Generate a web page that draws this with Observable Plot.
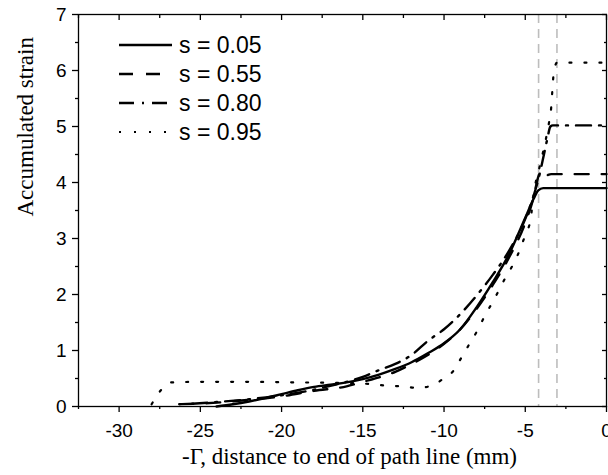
<!DOCTYPE html>
<html>
<head>
<meta charset="utf-8">
<script src="https://cdn.jsdelivr.net/npm/d3@7"></script>
<script src="https://cdn.jsdelivr.net/npm/@observablehq/plot@0.6"></script>
<style>
  html, body { margin: 0; padding: 0; background: white; }
  #wrap { position: relative; width: 608px; height: 475px; overflow: hidden; }
  #legend { position: absolute; left: 0; top: 0; pointer-events: none; }
</style>
</head>
<body>
<div id="wrap"></div>
<script>
// ---- data ----
const seriesLabels = ["s = 0.05", "s = 0.55", "s = 0.80", "s = 0.95"];

const x005 = [-24, -23, -22, -21, -20, -19, -18, -17, -16, -15, -14, -13, -12, -11, -10, -9, -8, -7, -6, -5, -4.5, -4.2, -3.9, 0];
const y005 = [0.0, 0.04, 0.09, 0.15, 0.22, 0.29, 0.35, 0.39, 0.43, 0.49, 0.57, 0.67, 0.79, 0.95, 1.13, 1.38, 1.77, 2.22, 2.72, 3.37, 3.70, 3.86, 3.90, 3.90];

const x055 = [-26.3, -24, -22, -20, -18, -16, -15, -14, -13, -12, -11, -10, -9, -8, -7, -6, -5, -4.5, -4.2, -4.05, -3.8, -3.4, 0];
const y055 = [0.04, 0.07, 0.12, 0.18, 0.28, 0.36, 0.44, 0.52, 0.62, 0.76, 0.92, 1.12, 1.38, 1.74, 2.17, 2.66, 3.28, 3.72, 4.10, 4.20, 4.12, 4.15, 4.15];

const x080 = [-25.5, -24, -22, -20, -18, -17, -16, -15, -14, -13, -12, -11, -10, -9, -8, -7, -6, -5, -4.5, -4.2, -3.85, -3.65, -3.45, -3.3, 0];
const y080 = [0.05, 0.08, 0.13, 0.20, 0.30, 0.37, 0.44, 0.53, 0.65, 0.76, 0.92, 1.17, 1.38, 1.65, 1.98, 2.35, 2.78, 3.35, 3.75, 4.05, 4.50, 4.77, 5.00, 5.02, 5.02];

const x095 = [-28, -27.4, -26.8, -25, -22, -19, -16, -14.5, -13.5, -12.5, -11.65, -10.8, -10.07, -9.44, -8.88, -8.41, -7.92, -7.49, -7.0, -6.63, -6.22, -5.74, -5.33, -4.98, -4.68, -4.47, -4.1, -3.75, -3.55, -3.4, -3.32, -3.25, -3.05, 0];
const y095 = [0.04, 0.30, 0.43, 0.44, 0.44, 0.43, 0.42, 0.40, 0.37, 0.36, 0.33, 0.37, 0.49, 0.63, 0.90, 1.13, 1.37, 1.62, 1.87, 2.07, 2.30, 2.54, 2.80, 3.08, 3.33, 3.82, 4.30, 4.75, 5.05, 5.35, 5.70, 5.95, 6.14, 6.14];

const refLines = [-4.18, -3.05];

const xMajor = [-30, -25, -20, -15, -10, -5, 0];
const xMinor = [-32.5, -27.5, -22.5, -17.5, -12.5, -7.5, -2.5];
const yMajor = [0, 1, 2, 3, 4, 5, 6, 7];
const yMinor = [0.5, 1.5, 2.5, 3.5, 4.5, 5.5, 6.5];

const xTitle = "-Γ, distance to end of path line (mm)";
const yTitle = "Accumulated strain";

// ---- build tables ----
const xs = [x005, x055, x080, x095];
const ys = [y005, y055, y080, y095];
const dashes = [null, "14,13", "15,8,2,8", "2,13"];
const widths = [2.4, 2.4, 2.4, 2.2];
const series = seriesLabels.map((label, i) => ({
  label, dash: dashes[i], width: widths[i],
  data: xs[i].map((x, j) => ({x, y: ys[i][j]}))
}));

const blank = () => "";
const sans = "'Liberation Sans', Arial, sans-serif";
const serif = "'Liberation Serif', 'Times New Roman', serif";

const chart = Plot.plot({
  width: 608,
  height: 475,
  marginLeft: 78,
  marginRight: 2,
  marginTop: 14,
  marginBottom: 69,
  x: {domain: [-32.5, 0]},
  y: {domain: [0, 7]},
  style: {fontFamily: sans, fontSize: "19px", color: "black", background: "white", overflow: "visible"},
  marks: [
    Plot.ruleX(refLines, {x: d => d, stroke: "#bdbdbd", strokeWidth: 1.6, strokeDasharray: "9,6"}),
    ...series.map(s => Plot.line(s.data, {
      x: "x", y: "y", stroke: "black", strokeWidth: s.width,
      strokeDasharray: s.dash || undefined, curve: "monotone-x"
    })),
    Plot.frame({stroke: "black", strokeWidth: 1.3}),
    Plot.axisX(xMajor, {tickSize: 6, tickPadding: 11, tickFormat: d => String(d), label: null, strokeWidth: 1.3, fontSize: 19}),
    Plot.axisX(xMinor, {tickSize: 3, tickFormat: blank, label: null, strokeWidth: 1.3}),
    Plot.axisX(xMajor, {anchor: "top", tickSize: -5, tickFormat: blank, label: null, strokeWidth: 1.3}),
    Plot.axisX(xMinor, {anchor: "top", tickSize: -3, tickFormat: blank, label: null, strokeWidth: 1.3}),
    Plot.axisY(yMajor, {tickSize: 6, tickPadding: 6, tickFormat: d => String(d), label: null, strokeWidth: 1.3, fontSize: 19}),
    Plot.axisY(yMinor, {tickSize: 3, tickFormat: blank, label: null, strokeWidth: 1.3}),
    Plot.axisY(yMajor, {anchor: "right", tickSize: -5, tickFormat: blank, label: null, strokeWidth: 1.3}),
    Plot.axisY(yMinor, {anchor: "right", tickSize: -3, tickFormat: blank, label: null, strokeWidth: 1.3}),
    Plot.text([xTitle], {text: d => d, frameAnchor: "bottom", lineAnchor: "bottom", dy: 57, dx: 7,
      fontFamily: serif, fontSize: 23, fill: "black"}),
    Plot.text([yTitle], {text: d => d, frameAnchor: "left", rotate: -90, lineAnchor: "bottom", dx: -46, dy: 6,
      fontFamily: serif, fontSize: 23, fill: "black"})
  ]
});

const wrap = document.getElementById("wrap");
wrap.appendChild(chart);

// ---- legend (overlay) ----
const leg = d3.select(wrap).append("svg")
  .attr("id", "legend").attr("width", 608).attr("height", 475);
const rowY = i => 45 + i * 29;
series.forEach((s, i) => {
  leg.append("line")
    .attr("x1", 119).attr("x2", 172).attr("y1", rowY(i)).attr("y2", rowY(i))
    .attr("stroke", "black").attr("stroke-width", s.width)
    .attr("stroke-dasharray", s.dash);
  leg.append("text")
    .attr("x", 179).attr("y", rowY(i)).attr("dy", "0.35em")
    .attr("font-family", sans).attr("font-size", 23).attr("fill", "black")
    .text(s.label);
});
</script>
</body>
</html>
